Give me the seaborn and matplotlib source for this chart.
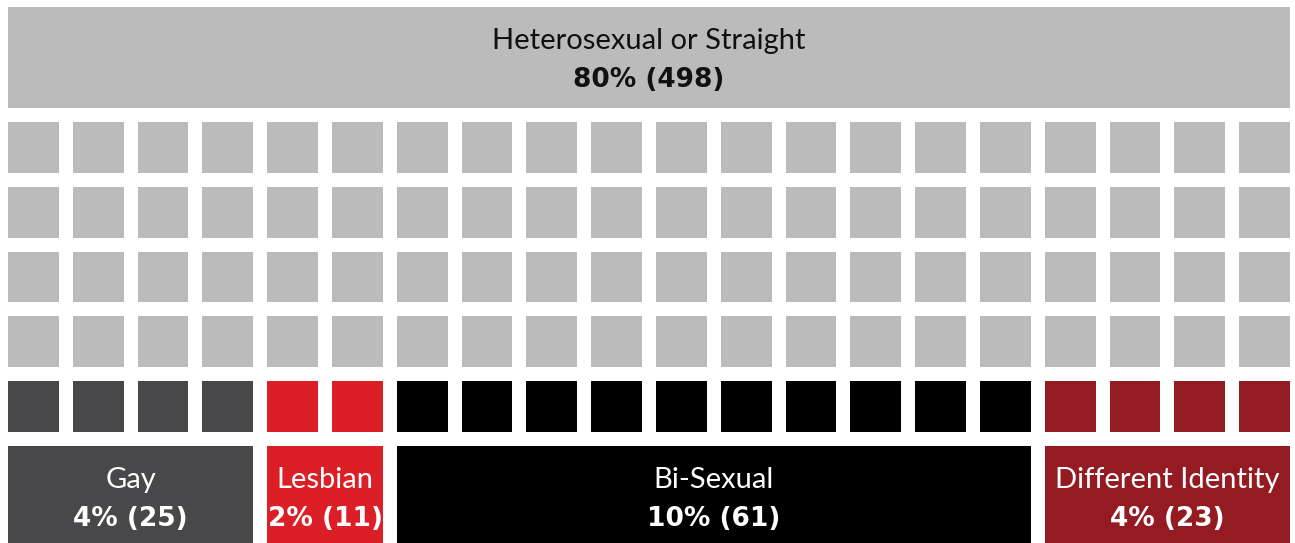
import matplotlib
matplotlib.use("Agg")
import matplotlib.pyplot as plt
from matplotlib.colors import ListedColormap
from matplotlib.patches import Rectangle
import numpy as np
import pandas as pd
import seaborn as sns

# survey data
categories = ["Heterosexual or Straight", "Gay", "Lesbian", "Bi-Sexual", "Different Identity"]
percents = [80, 4, 2, 10, 4]
counts = [498, 25, 11, 61, 23]
colors = ["#bbbbbb", "#48474a", "#dc1f26", "#000000", "#951b23"]
text_colors = ["#111111", "white", "white", "white", "white"]

n_cols, n_rows = 20, 5
pitch = 64.8            # pixels per grid cell
gap = 7 / pitch         # half gap in cell units

sns.set_theme(style="white")
plt.rcParams["font.family"] = ["Lato", "DejaVu Sans"]

# one waffle cell per percent, filled row by row
cells = np.repeat(np.arange(len(categories)), percents)
grid = pd.DataFrame(cells.reshape(n_rows, n_cols))

fig = plt.figure(figsize=(12.95, 5.43), dpi=100)
ax = fig.add_axes([0, 0, 1, 1])
sns.heatmap(grid, ax=ax, cmap=ListedColormap(colors), vmin=-0.5, vmax=len(categories) - 0.5,
            cbar=False, linewidths=14 * 72 / 100, linecolor="white",
            xticklabels=False, yticklabels=False)
ax.set_xlim(-1 / pitch, (1295 - 1) / pitch)
ax.set_ylim((543 - 115) / pitch, -115 / pitch)
ax.axis("off")

def label(x0, x1, y0, y1, i):
    ax.add_patch(Rectangle((x0, y0), x1 - x0, y1 - y0, color=colors[i], lw=0, clip_on=False))
    xc = (x0 + x1) / 2
    ax.text(xc, y0 + 0.52, categories[i], ha="center", va="center", fontsize=21,
            fontweight="normal", color=text_colors[i])
    ax.text(xc, y0 + 1.12, "{}% ({})".format(percents[i], counts[i]), ha="center", va="center",
            fontsize=19, fontweight="bold", family="DejaVu Sans", color=text_colors[i])

# header band for the majority group
label(gap, n_cols - gap, (7 - 115) / pitch, (108 - 115) / pitch, 0)

# bottom boxes under each minority group
start = 0
for i in range(1, len(categories)):
    end = start + percents[i]
    label(start + gap, end - gap, (446 - 115) / pitch, (560 - 115) / pitch, i)
    start = end

fig.savefig("out.png", dpi=100)
